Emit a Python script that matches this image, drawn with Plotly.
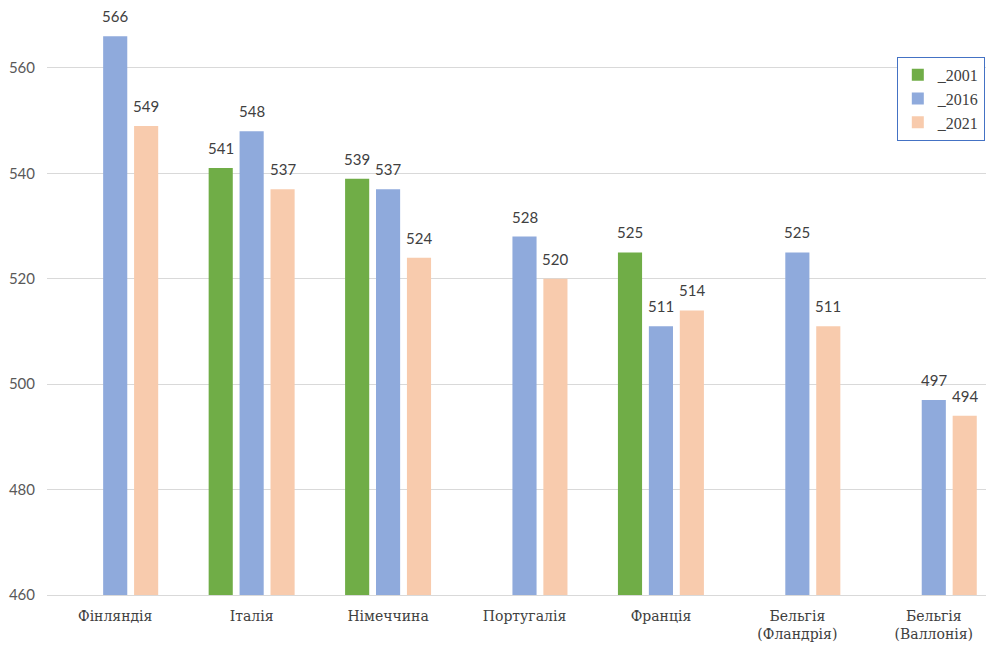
import plotly.graph_objects as go

categories = ["Фінляндія", "Італія", "Німеччина", "Португалія", "Франція",
              "Бельгія<br>(Фландрія)", "Бельгія<br>(Валлонія)"]
series_names = ["_2001", "_2016", "_2021"]
v2001 = [None, 541, 539, None, 525, None, None]
v2016 = [566, 548, 537, 528, 511, 525, 497]
v2021 = [549, 537, 524, 520, 514, 511, 494]
colors = ["#70AD47", "#8FAADC", "#F8CBAD"]
y_ticks = [460, 480, 500, 520, 540, 560]

W, H = 994, 639
ML, MR, MT, MB = 39, 0, 2, 52
BARGAP, GROUPGAP = 0.32, 0.22

fig = go.Figure()
series = [v2001, v2016, v2021]
for name, vals, col in zip(series_names, series, colors):
    fig.add_trace(go.Bar(x=categories, y=vals, name=name, marker_color=col,
                         marker_line_width=0))

# data labels as annotations, shifted to the slot of each series within its group
step_px = (W - ML - MR) / len(categories)
slot_px = step_px * (1 - BARGAP) / len(series)
for si, vals in enumerate(series):
    for cat, v in zip(categories, vals):
        if v is None:
            continue
        fig.add_annotation(x=cat, y=v, text=str(v), showarrow=False,
                           xshift=(si - 1) * slot_px, yshift=9, yanchor="bottom",
                           font=dict(family="Lato", size=15, color="#404040"))

fig.update_layout(
    width=W, height=H,
    margin=dict(l=ML, r=MR, t=MT, b=MB, autoexpand=False),
    plot_bgcolor="white", paper_bgcolor="white",
    barmode="group", bargap=BARGAP, bargroupgap=GROUPGAP,
    legend=dict(x=0.982, y=0.92, xanchor="right", yanchor="top",
                bordercolor="#4472C4", borderwidth=1, bgcolor="white",
                font=dict(family="Liberation Serif", size=16, color="#404040"),
                itemwidth=30),
    xaxis=dict(tickfont=dict(family="DejaVu Serif", size=14, color="#404040"),
               showline=True, linecolor="#D9D9D9", ticks="", automargin=False,
               ticklabelstandoff=8),
    yaxis=dict(range=[460, 571], tickvals=y_ticks, showgrid=True, gridcolor="#D9D9D9",
               zeroline=False, ticks="", ticklen=0, automargin=False,
               ticklabelstandoff=11,
               tickfont=dict(family="Lato", size=15, color="#595959")),
)
fig.write_html("out.html")
